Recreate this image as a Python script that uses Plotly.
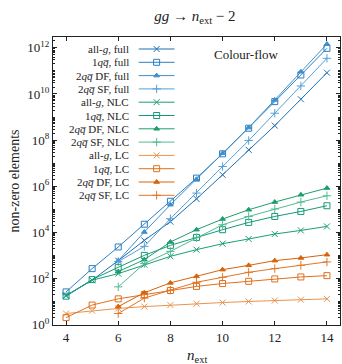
import plotly.graph_objects as go

# ---- data ----
n_all = [4, 5, 6, 7, 8, 9, 10, 11, 12, 13, 14]
n_2q = [6, 7, 8, 9, 10, 11, 12, 13, 14]

allg_full = [18, 84, 590, 4460, 2.88e4, 2.82e5, 3.12e6, 3.77e7, 4.25e8, 5.9e9, 8.36e10]
q1_full = [26, 266, 2310, 22400, 2.22e5, 2.24e6, 2.53e7, 3.27e8, 4.65e9, 6.65e10, 9.5e11]
df_full = [590, 1.03e4, 1.57e5, 2.0e6, 2.71e7, 3.48e8, 5.5e9, 9.2e10, 1.46e12]
sf_full = [533, 2455, 3.88e4, 5.02e5, 7.13e6, 9.5e7, 1.46e9, 2.22e10, 3.51e11]

allg_nlc = [18, 84, 161, 395, 906, 1766, 3206, 5130, 8430, 12080, 17990]
q1_nlc = [17, 89, 303, 1000, 2710, 6010, 12970, 26850, 48750, 80350, 141900]
df_nlc = [197, 652, 3800, 12970, 37670, 95060, 205100, 424600, 827900]
sf_nlc = [43, 438, 1490, 5830, 21330, 48750, 102100, 205100, 383700]

allg_lc = [3, 4, 5, 6, 7, 8, 9, 10, 11, 12, 13]
q1_lc = [2, 7, 13, 20, 30, 45, 60, 75, 95, 116, 132]
df_lc = [6, 24, 64, 123, 240, 369, 590, 772, 1070]
sf_lc = [3, 14, 31, 68, 112, 184, 266, 369, 518]

QQ = "<i>q</i><i>q\u0305</i>"
labels = [
    "all-<i>g</i>, full", "1" + QQ + ", full", "2" + QQ + " DF, full", "2" + QQ + " SF, full",
    "all-<i>g</i>, NLC", "1" + QQ + ", NLC", "2" + QQ + " DF, NLC", "2" + QQ + " SF, NLC",
    "all-<i>g</i>, LC", "1" + QQ + ", LC", "2" + QQ + " DF, LC", "2" + QQ + " SF, LC",
]

x_ticks = [4, 6, 8, 10, 12, 14]
y_tickvals = [1, 1e2, 1e4, 1e6, 1e8, 1e10, 1e12]
y_ticktext = ["10<sup>0</sup>", "10<sup>2</sup>", "10<sup>4</sup>", "10<sup>6</sup>",
              "10<sup>8</sup>", "10<sup>10</sup>", "10<sup>12</sup>"]

# ---- styles ----
colors = ["#1f6fb2", "#2a7fc1", "#3d8fcc", "#55a0d6",
          "#1a9e78", "#149a78", "#1f9e6c", "#52bb92",
          "#e99450", "#e0701e", "#d9620a", "#e27525"]
symbols = ["x-thin-open", "square-open", "triangle-up", "cross-thin-open"] * 3
sizes = [6, 6, 5, 6] * 3

series = [
    (n_all, allg_full), (n_all, q1_full), (n_2q, df_full), (n_2q, sf_full),
    (n_all, allg_nlc), (n_all, q1_nlc), (n_2q, df_nlc), (n_2q, sf_nlc),
    (n_all, allg_lc), (n_all, q1_lc), (n_2q, df_lc), (n_2q, sf_lc),
]

FONT = "Liberation Serif, DejaVu Serif, serif"
TXT = "#222"
fig = go.Figure()

for i, (xs, ys) in enumerate(series):
    fig.add_trace(go.Scatter(
        x=xs, y=ys, mode="lines+markers", name=labels[i], showlegend=False,
        line=dict(color=colors[i], width=1),
        marker=dict(symbol=symbols[i], size=sizes[i], color=colors[i],
                    line=dict(color=colors[i], width=1)),
    ))

# ---- custom legend (text left, sample right) on auxiliary pixel axes ----
PW = 288.0
row0, drow = 12.0, 13.3
for i in range(len(labels)):
    yy = row0 + drow * i
    fig.add_trace(go.Scatter(
        x=[86, 104, 122], y=[yy, yy, yy], xaxis="x2", yaxis="y2",
        mode="lines", showlegend=False, hoverinfo="skip",
        line=dict(color=colors[i], width=1),
    ))
    fig.add_trace(go.Scatter(
        x=[104], y=[yy], xaxis="x2", yaxis="y2",
        mode="markers", showlegend=False, hoverinfo="skip",
        marker=dict(symbol=symbols[i], size=sizes[i], color=colors[i],
                    line=dict(color=colors[i], width=1)),
    ))
    fig.add_annotation(
        x=78, y=yy, xref="x2", yref="y2", text=labels[i], showarrow=False,
        xanchor="right", yanchor="middle",
        font=dict(family=FONT, size=11, color=TXT),
    )

fig.add_annotation(
    x=0.675, y=0.94, xref="paper", yref="paper", text="Colour-flow", showarrow=False,
    xanchor="center", yanchor="middle", font=dict(family=FONT, size=13, color=TXT),
)
# x-axis title
fig.add_annotation(
    x=0.5, y=-0.108, xref="paper", yref="paper", text="<i>n</i><sub>ext</sub>", showarrow=False,
    xanchor="center", yanchor="middle", font=dict(family=FONT, size=15, color=TXT),
)

axis_common = dict(
    showline=True, linecolor=TXT, linewidth=1.2, mirror="allticks",
    ticks="inside", tickcolor=TXT, showgrid=False, zeroline=False, automargin=False,
    tickfont=dict(family=FONT, size=13, color=TXT),
)

fig.update_layout(
    width=342, height=364,
    margin=dict(l=53, r=2, t=37, b=39),
    paper_bgcolor="white", plot_bgcolor="rgba(0,0,0,0)",
    title=dict(text="<i>gg</i> → <i>n</i><sub>ext</sub> − 2", x=0.57, xanchor="center",
               y=0.958, yanchor="middle", font=dict(family=FONT, size=15, color=TXT)),
    xaxis=dict(range=[3.5, 14.5], tickvals=x_ticks, ticklen=4, **axis_common),
    yaxis=dict(type="log", range=[-0.02, 12.47], tickvals=y_tickvals, ticktext=y_ticktext,
               ticklen=4,
               minor=dict(ticks="inside", ticklen=2, tickcolor=TXT, dtick="D1", showgrid=False),
               title=dict(text="non-zero elements", font=dict(family=FONT, size=14, color=TXT),
                          standoff=4),
               **axis_common),
    xaxis2=dict(range=[0, PW], domain=[0, 1], overlaying="x", visible=False, fixedrange=True),
    yaxis2=dict(range=[PW, 0], domain=[0, 1], overlaying="y", visible=False, fixedrange=True),
    showlegend=False,
)

fig.write_html("out.html", config={"displayModeBar": False},
               post_script="document.body.style.margin='0';document.body.style.padding='0';")
